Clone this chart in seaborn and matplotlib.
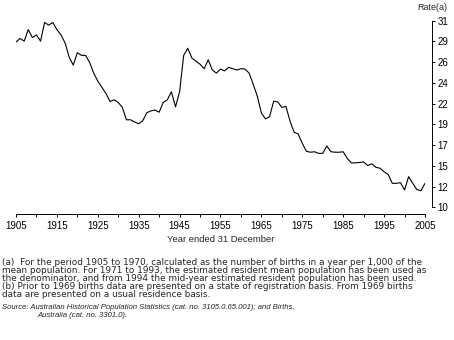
import numpy as np
import pandas as pd
import matplotlib
matplotlib.use("Agg")
import matplotlib.pyplot as plt
from matplotlib import font_manager
import seaborn as sns

# ---- data ----
years = list(range(1905, 2006))
rate = [
    28.6, 29.0, 28.7, 30.0, 29.1, 29.4, 28.7, 30.8, 30.5, 30.8,   # 1905-1914
    30.0, 29.4, 28.5, 26.9, 26.0, 27.4, 27.1, 27.1, 26.3, 25.1,   # 1915-1924
    24.2, 23.5, 22.8, 21.9, 22.1, 21.8, 21.25, 19.85, 19.85, 19.6,  # 1925-1934
    19.4, 19.75, 20.65, 20.85, 20.95, 20.7, 21.8, 22.1, 23.0, 21.3,  # 1935-1944
    23.0, 27.1, 27.9, 26.8, 26.45, 26.1, 25.6, 26.6, 25.45, 25.1,  # 1945-1954
    25.55, 25.35, 25.75, 25.6, 25.45, 25.6, 25.55, 25.1, 23.85, 22.5,  # 1955-1964
    20.6, 19.95, 20.2, 21.95, 21.85, 21.25, 21.35, 19.7, 18.45, 18.25,  # 1965-1974
    17.2, 16.3, 16.2, 16.25, 16.07, 16.07, 16.9, 16.25, 16.2, 16.2,  # 1975-1984
    16.25, 15.5, 15.0, 15.0, 15.05, 15.1, 14.7, 14.9, 14.5, 14.4,  # 1985-1994
    14.0, 13.7, 12.7, 12.7, 12.77, 11.95, 13.45, 12.7, 12.0, 11.87,  # 1995-2004
    12.7,                                                           # 2005
]
x_major = list(range(1905, 2006, 10))
x_minor = list(range(1910, 2006, 10))
y_tick_values = list(np.linspace(10, 31, 10))
y_tick_labels = ["10", "12", "15", "17", "19", "22", "24", "26", "29", "31"]
y_title = "Rate(a)"
x_title = "Year ended 31 December"
notes = [
    "(a)  For the period 1905 to 1970, calculated as the number of births in a year per 1,000 of the",
    "mean population. For 1971 to 1993, the estimated resident mean population has been used as",
    "the denominator, and from 1994 the mid-year estimated resident population has been used.",
    "(b) Prior to 1969 births data are presented on a state of registration basis. From 1969 births",
    "data are presented on a usual residence basis.",
]
source_lines = [
    "Source: Australian Historical Population Statistics (cat. no. 3105.0.65.001); and Births,",
    "Australia (cat. no. 3301.0).",
]

df = pd.DataFrame({"year": years, "rate": rate})

sns.set_style("ticks")
available = {f.name for f in font_manager.fontManager.ttflist}
narrow = "Liberation Sans Narrow" if "Liberation Sans Narrow" in available else "Liberation Sans"
plt.rcParams["font.family"] = [narrow, "DejaVu Sans"]
wide = ["DejaVu Sans"]

W, H = 454, 340
fig = plt.figure(figsize=(W / 100, H / 100), dpi=100)
x0, x1, yt, yb = 16, 425, 20.7, 207.3
ax = fig.add_axes([x0 / W, 1 - yb / H, (x1 - x0) / W, (yb - yt) / H])

sns.lineplot(data=df, x="year", y="rate", ax=ax, color="black", linewidth=0.8)

ax.set_xlim(1905, 2005)
ax.set_ylim(10, 31)
ax.set_xlabel("")
ax.set_ylabel("")

for s in ["left", "top"]:
    ax.spines[s].set_visible(False)
for s in ["right", "bottom"]:
    ax.spines[s].set_linewidth(0.7)
    ax.spines[s].set_color("black")
    ax.spines[s].set_position(("outward", 5))

ax.yaxis.tick_right()
ax.set_yticks(y_tick_values)
ax.set_yticklabels(y_tick_labels)
ax.set_xticks(x_major)
ax.set_xticklabels([str(v) for v in x_major])
ax.set_xticks(x_minor, minor=True)
ax.tick_params(axis="both", which="both", direction="out", length=2.5, width=0.7,
               color="black", labelsize=7, labelcolor="black")
ax.tick_params(axis="x", pad=2.5)
ax.tick_params(axis="y", pad=1.5)

fig.text(447 / W, 1 - 7 / H, y_title, ha="right", va="center", fontsize=6.5)
fig.text(221 / W, 1 - 240 / H, x_title, ha="center", va="center", fontsize=6.8)

for i, line in enumerate(notes):
    fig.text(2 / W, 1 - (262.7 + 8 * i) / H, line, ha="left", va="center",
             fontsize=6.4, family=wide)
fig.text(2 / W, 1 - 307.3 / H, source_lines[0], ha="left", va="center",
         fontsize=5.6, style="italic")
fig.text(37 / W, 1 - 315.3 / H, source_lines[1], ha="left", va="center",
         fontsize=5.6, style="italic")

fig.savefig("out.png", dpi=100)
